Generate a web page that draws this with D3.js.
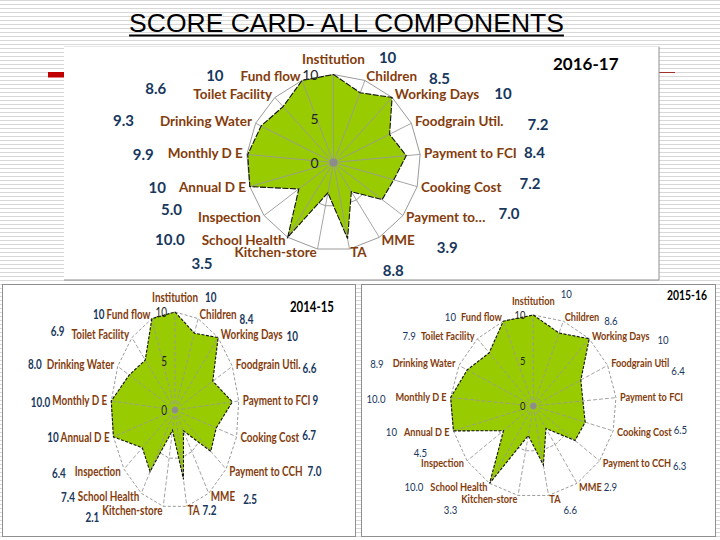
<!DOCTYPE html>
<html><head><meta charset="utf-8">
<script src="https://cdn.jsdelivr.net/npm/d3@7"></script>
<style>html,body{margin:0;padding:0;background:#fff;} svg{display:block;}</style>
</head><body>
<svg id="c" width="720" height="540"></svg>
<script>
// ---------------- DATA ----------------
const titleText = "SCORE CARD- ALL COMPONENTS";
const years = ["2016-17", "2014-15", "2015-16"];
const tickValues = [0, 5, 10];
const tickLabels = ["0", "5", "10"];

const categories2016 = ["Institution","Children","Working Days","Foodgrain Util.","Payment to FCI","Cooking Cost","Payment to…","MME","TA","Kitchen-store","School Health","Inspection","Annual D E","Monthly D E","Drinking Water","Toilet Facility","Fund flow"];
const scores2016 = [10, 8.5, 10, 7.2, 8.4, 7.2, 7.0, 3.9, 8.8, 3.5, 10.0, 5.0, 10, 9.9, 9.3, 8.6, 10];
const labels2016 = ["10","8.5","10","7.2","8.4","7.2","7.0","3.9","8.8","3.5","10.0","5.0","10","9.9","9.3","8.6","10"];

const categories2014 = ["Institution","Children","Working Days","Foodgrain Util.","Payment to FCI","Cooking Cost","Payment to CCH","MME","TA","Kitchen-store","School Health","Inspection","Annual D E","Monthly D E","Drinking Water","Toilet Facility","Fund flow"];
const scores2014 = [10, 8.4, 10, 6.6, 9, 6.7, 7.0, 2.5, 7.2, 2.1, 7.4, 6.4, 10, 10.0, 8.0, 6.9, 10];
const labels2014 = ["10","8.4","10","6.6","9","6.7","7.0","2.5","7.2","2.1","7.4","6.4","10","10.0","8.0","6.9","10"];

const categories2015 = ["Institution","Children","Working Days","Foodgrain Util","Payment to FCI","Cooking Cost","Payment to CCH","MME","TA","Kitchen-store","School Health","Inspection","Annual D E","Monthly D E","Drinking Water","Toilet Facility","Fund flow"];
const scores2015 = [10, 8.6, 10, 6.4, 6.0, 6.5, 6.3, 2.9, 6.6, 3.3, 10.0, 4.5, 10, 10.0, 8.9, 7.9, 10];
const labels2015 = ["10","8.6","10","6.4","","6.5","6.3","2.9","6.6","3.3","10.0","4.5","10","10.0","8.9","7.9","10"];

// ---------------- LAYOUT (value-label nudges: [gap from label edge, baseline shift]) ----------------
const valOff2016 = [[14,-1],[12,3],[15,0],[24,4],[7,0],[18,-3],[13,-3],[22,8],[16,19],[22,12],[17,0],[16,-7],[13,1],[14,2],[26,0],[27,-5],[17,0]];
const valOff2014 = [[7,0],[3,5],[4,2],[2,4],[2,0],[3,-2],[5,0],[8,3],[3,0],[3,7],[3,1],[9,2],[2,0],[2,2],[5,0],[7,-3],[2,0]];
const valOff2015 = [[6,-7],[5,4],[8,4],[2,8],[0,0],[2,-2],[2,3],[2,0],[3,11],[4,11],[7,0],[-6,-10],[7,0],[10,2],[9,1],[5,0],[5,0]];

const FONT = "Lato, 'Open Sans', sans-serif";
const catColor = "#843c0c", valColor = "#17375e", fillColor = "#99cc00";

const svg = d3.select("#c");
const defs = svg.append("defs");
const pat = defs.append("pattern").attr("id","stripes").attr("width",8).attr("height",4).attr("patternUnits","userSpaceOnUse");
pat.append("rect").attr("width",8).attr("height",4).attr("fill","#fff");
pat.append("rect").attr("y",0).attr("width",8).attr("height",1).attr("fill","#d8d8d8");
svg.append("rect").attr("width",720).attr("height",540).attr("fill","url(#stripes)");

// title
const title = svg.append("text").attr("x",346.5).attr("y",32).attr("text-anchor","middle")
  .style("font-family","'Liberation Sans', Arial, sans-serif").style("font-size","26.5px").attr("fill","#000").text(titleText);
const tb = title.node().getBBox();
svg.append("rect").attr("x",tb.x).attr("y",34.5).attr("width",tb.width).attr("height",2).attr("fill","#000");

// theme accents
svg.append("rect").attr("x",48).attr("y",72).attr("width",17).attr("height",5.5).attr("fill","#c00000");
svg.append("line").attr("x1",659).attr("x2",675).attr("y1",72.5).attr("y2",72.5).attr("stroke","#a0302a").attr("stroke-width",1);

// horizontally compressed text: group translated to (x,y), scaled in x
function sText(parent, x, y, anchor, scale, styleFn, str) {
  const gg = parent.append("g").attr("transform", `translate(${x},${y}) scale(${scale},1)`);
  const t = gg.append("text").attr("x",0).attr("y",0).attr("text-anchor",anchor).text(str);
  styleFn(t);
  return t.node().getComputedTextLength()*scale;
}

const charts = [
  { cats: categories2016, scores: scores2016, labels: labels2016, year: years[0], valOff: valOff2016,
    box:[64,46,595,234], edges:"rb", cx:333.5, cy:162.5, rx:87, ry:88, gap:4,
    catFs:13.5, catW:"bold", valFs:15, valW:"bold", hScale:1, tickFs:14, tickDx:15, tickScale:1,
    yearPos:[553,70], yearFs:17, ringDash:null, spokeDash:null, outlineDash:"6,1.5", dotR:4 },
  { cats: categories2014, scores: scores2014, labels: labels2014, year: years[1], valOff: valOff2014,
    box:[2.5,284.5,353,252], edges:"all", cx:175, cy:410, rx:64, ry:98, gap:4,
    catFs:13, catW:"bold", valFs:13, valW:"bold", hScale:0.76, tickFs:12.5, tickDx:8, tickScale:0.8,
    yearPos:[290,312], yearFs:15, ringDash:"3,2", spokeDash:"4,2", outlineDash:"3,1.5", dotR:3 },
  { cats: categories2015, scores: scores2015, labels: labels2015, year: years[2], valOff: valOff2015,
    box:[361.5,284.5,354,252], edges:"all", cx:533.3, cy:406, rx:83, ry:91, gap:4,
    catFs:11.5, catW:"bold", valFs:12, valW:"normal", hScale:0.8, tickFs:11, tickDx:8, tickScale:0.85,
    yearPos:[667,300], yearFs:13, ringDash:"3,2", spokeDash:"4,2", outlineDash:"3,1.5", dotR:3 }
];

function drawRadar(cfg) {
  const g = svg.append("g");
  const [bx,by,bw,bh] = cfg.box;
  g.append("rect").attr("x",bx).attr("y",by).attr("width",bw).attr("height",bh).attr("fill","#fff")
    .attr("stroke", cfg.edges==="all" ? "#8f8f8f" : "none");
  if (cfg.edges === "rb") {
    g.append("path").attr("d",`M${bx},${by+0.5}H${bx+bw}V${by+bh}H${bx}`).attr("fill","none").attr("stroke","#8f8f8f");
    g.append("path").attr("d",`M${bx},${by+0.5}H${bx+bw}`).attr("fill","none").attr("stroke","#e6e6e6");
  }
  const n = cfg.cats.length;
  const idx = d3.range(n);
  const ang = d3.scaleLinear().domain([0,n]).range([0,2*Math.PI]);
  const r = d3.scaleLinear().domain([0,10]).range([0,1]);
  const px = (i,v) => cfg.cx + r(v)*cfg.rx*Math.sin(ang(i));
  const py = (i,v) => cfg.cy - r(v)*cfg.ry*Math.cos(ang(i));

  // rings
  tickValues.filter(t => t > 0).forEach(t => {
    const ring = d3.line().x(i => px(i,t)).y(i => py(i,t)).curve(d3.curveLinearClosed);
    g.append("path").attr("d", ring(idx)).attr("fill","none").attr("stroke","#9a9a9a").attr("stroke-width",1)
      .attr("stroke-dasharray", cfg.ringDash);
  });
  // series fill
  const area = d3.line().x((d,i) => px(i,d)).y((d,i) => py(i,d)).curve(d3.curveLinearClosed);
  g.append("path").attr("d", area(cfg.scores)).attr("fill", fillColor).attr("stroke","none");
  // spokes
  g.selectAll(null).data(idx).join("line")
    .attr("x1",cfg.cx).attr("y1",cfg.cy)
    .attr("x2",i => px(i,10)).attr("y2",i => py(i,10))
    .attr("stroke","#9a9a9a").attr("stroke-width",0.9).attr("stroke-dasharray", cfg.spokeDash);
  // outline
  g.append("path").attr("d", area(cfg.scores)).attr("fill","none").attr("stroke","#111").attr("stroke-width",1.1)
    .attr("stroke-dasharray", cfg.outlineDash);
  g.append("circle").attr("cx",cfg.cx).attr("cy",cfg.cy).attr("r",cfg.dotR).attr("fill","#8c8c8c");

  // tick labels
  tickValues.forEach((t,k) => {
    sText(g, cfg.cx - cfg.tickDx, py(0,t) + 0.38*cfg.tickFs, "end", cfg.tickScale,
      s => s.style("font-family",FONT).style("font-size",cfg.tickFs+"px").attr("fill","#222"), tickLabels[k]);
  });

  // category + value labels
  idx.forEach(i => {
    const a = ang(i), s = Math.sin(a), c = Math.cos(a);
    const lx = cfg.cx + (cfg.rx+cfg.gap)*s, ly = cfg.cy - (cfg.ry+cfg.gap)*c;
    const anchor = Math.abs(s) < 0.1 ? "middle" : (s > 0 ? "start" : "end");
    const base = (anchor === "middle" && c > 0) ? ly - 0.5*cfg.catFs : ly + 0.33*cfg.catFs;
    const w = sText(g, lx, base, anchor, cfg.hScale,
      t => t.style("font-family",FONT).style("font-size",cfg.catFs+"px").style("font-weight",cfg.catW).attr("fill",catColor),
      cfg.cats[i]);
    const left = anchor === "start" ? lx : anchor === "end" ? lx - w : lx - w/2;
    const right = left + w;
    if (cfg.labels[i]) {
      const [dx,dy] = cfg.valOff[i];
      const onLeft = anchor === "end";
      sText(g, onLeft ? left - dx : right + dx, base + dy, onLeft ? "end" : "start", cfg.hScale,
        t => t.style("font-family",FONT).style("font-size",cfg.valFs+"px").style("font-weight",cfg.valW).attr("fill",valColor),
        cfg.labels[i]);
    }
  });

  sText(g, cfg.yearPos[0], cfg.yearPos[1], "start", cfg.hScale,
    t => t.style("font-family",FONT).style("font-size",cfg.yearFs+"px").style("font-weight","bold").attr("fill","#000"),
    cfg.year);
}

charts.forEach(drawRadar);
</script>
</body></html>
